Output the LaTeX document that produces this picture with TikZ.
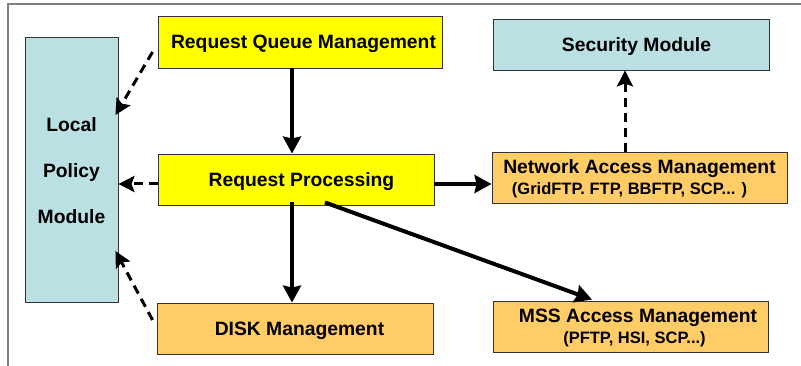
\documentclass[tikz,border=0pt]{standalone}
\usepackage{fontspec}
\setmainfont{Liberation Sans}
\usetikzlibrary{arrows.meta}
\definecolor{boxyellow}{HTML}{FFFF00}
\definecolor{boxorange}{HTML}{FFCC66}
\definecolor{boxblue}{HTML}{BBE0E3}
\definecolor{framegray}{HTML}{808080}
\definecolor{edgegray}{HTML}{333333}
\newcommand\smalllabel{\fontsize{16.5}{19}\selectfont}
\tikzset{
  box/.style={draw=edgegray, line width=0.9pt, rectangle, inner sep=0pt,
    text depth=0pt, align=center, font=\bfseries\fontsize{19.3}{23}\selectfont},
  solidarrow/.style={line width=4pt, -{Stealth[length=17pt,width=18pt,inset=2pt]}},
  dasharrow/.style={line width=3pt, dash pattern=on 9pt off 6pt,
    -{Stealth[length=16pt,width=16pt,inset=3pt]}},
}
\begin{document}
\begin{tikzpicture}[x=1pt,y=-1pt]
  \useasboundingbox (0,0) rectangle (801,366);
  % partial outer frame
  \draw[framegray, line width=1.5pt] (801,4) -- (8,4) -- (8,366);

  % boxes
  \node[box, fill=boxblue, minimum width=93pt, minimum height=265pt]
    (lpm) at (71.5,169.5) {};
  \node[font=\bfseries\fontsize{19.3}{23}\selectfont, align=center]
    (lpmtext) at (71.5,171) {Local\\[23pt]Policy\\[23pt]Module};
  \node[box, fill=boxyellow, minimum width=284pt, minimum height=52pt]
    (rqm) at (300,42) {\hspace{7pt}Request Queue Management};
  \node[box, fill=boxyellow, minimum width=276pt, minimum height=51pt]
    (rp) at (296,179.5) {\hspace{11pt}Request Processing};
  \node[box, fill=boxorange, minimum width=276pt, minimum height=51pt]
    (disk) at (295,328.5) {\hspace{9pt}DISK Management};
  \node[box, fill=boxblue, minimum width=276pt, minimum height=51pt]
    (sec) at (631,44.5) {\hspace{11pt}Security Module};
  \node[box, fill=boxorange, minimum width=295pt, minimum height=51pt]
    (nam) at (639.5,177.5) {Network Access Management\\[-2pt]
      {\smalllabel\hspace*{-20pt}(GridFTP. FTP, BBFTP, SCP... )}};
  \node[box, fill=boxorange, minimum width=275pt, minimum height=51pt]
    (mss) at (630.5,326.5) {\hspace{15pt}MSS Access Management\\[-2pt]
      {\smalllabel\hspace*{8pt}(PFTP, HSI, SCP...)}};

  % control flow
  \draw[solidarrow] ([xshift=-8pt]rqm.south) -- ([xshift=-4pt]rp.north);
  \draw[solidarrow] ([xshift=-4pt,yshift=3pt]rp.south) -- ([xshift=-3pt]disk.north);
  \draw[solidarrow] ([yshift=-4.5pt]rp.east) -- ([yshift=-4.5pt]rp.east -| nam.west);
  \draw[solidarrow] ([xshift=29pt,yshift=3pt]rp.south) -- ([xshift=-38.5pt,yshift=1pt]mss.north);

  % policy and security checks
  \draw[dasharrow] ([xshift=-14.5pt]nam.north) -- ([xshift=-6pt]sec.south);
  \draw[dasharrow] ([xshift=-5pt,yshift=-10pt]rqm.west) -- ([xshift=-3pt,yshift=54.5pt]lpm.east);
  \draw[dasharrow] ([yshift=-4.5pt]rp.west) -- ([yshift=-4.5pt]rp.west -| lpm.east);
  \draw[dasharrow] ([xshift=-4pt,yshift=8.5pt]disk.west) -- ([xshift=-3pt,yshift=-81.5pt]lpm.east);
\end{tikzpicture}
\end{document}
